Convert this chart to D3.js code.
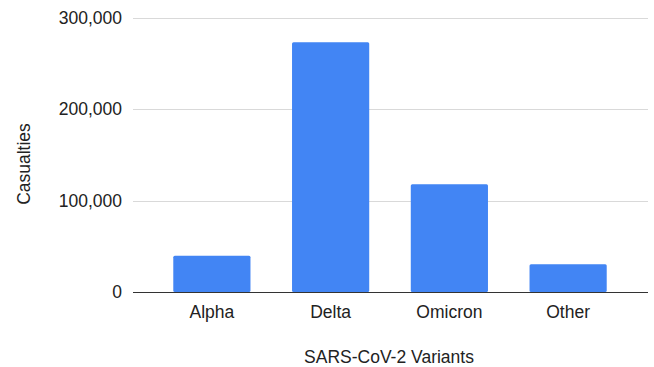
<!DOCTYPE html>
<html>
<head>
<meta charset="utf-8">
<script src="https://cdn.jsdelivr.net/npm/d3@7"></script>
<style>
  html, body { margin: 0; padding: 0; background: #fff; }
  svg { display: block; font-family: Arial, "Liberation Sans", sans-serif; }
</style>
</head>
<body>
<svg id="chart" width="654" height="367"></svg>
<script>
// Casualties by SARS-CoV-2 variant
const categories = ["Alpha", "Delta", "Omicron", "Other"];
const casualties = [39500, 273000, 117800, 30200];
const yTicks = [0, 100000, 200000, 300000];

const svg = d3.select("#chart");

const plot = { left: 133, right: 648, top: 17.5, bottom: 292 };
const fontSize = 17.5;

const x = d3.scaleBand()
  .domain(categories)
  .range([152.5, 627.5])
  .paddingInner(0.35)
  .paddingOuter(0.175);

const y = d3.scaleLinear()
  .domain([0, 300000])
  .range([plot.bottom, plot.top]);

const fmt = d3.format(",");

// horizontal gridlines
svg.append("g")
  .selectAll("line")
  .data(yTicks.filter(d => d !== 0))
  .join("line")
  .attr("x1", plot.left).attr("x2", plot.right)
  .attr("y1", d => Math.round(y(d)) + 0.5).attr("y2", d => Math.round(y(d)) + 0.5)
  .attr("stroke", "#d9d9d9").attr("stroke-width", 1);

// y tick labels
svg.append("g")
  .selectAll("text")
  .data(yTicks)
  .join("text")
  .attr("x", 122)
  .attr("y", d => y(d))
  .attr("dy", "0.35em")
  .attr("text-anchor", "end")
  .attr("font-size", fontSize)
  .attr("fill", "#222")
  .text(d => fmt(d));

// bars
svg.append("g")
  .selectAll("rect")
  .data(categories.map((c, i) => ({ c, v: casualties[i] })))
  .join("rect")
  .attr("x", d => x(d.c))
  .attr("y", d => y(d.v))
  .attr("width", x.bandwidth())
  .attr("height", d => y(0) - y(d.v))
  .attr("rx", 1.5)
  .attr("fill", "#4285f4");

// baseline
svg.append("line")
  .attr("x1", plot.left).attr("x2", plot.right)
  .attr("y1", y(0) + 0.5).attr("y2", y(0) + 0.5)
  .attr("stroke", "#333").attr("stroke-width", 1);

// category labels
svg.append("g")
  .selectAll("text")
  .data(categories)
  .join("text")
  .attr("x", d => x(d) + x.bandwidth() / 2)
  .attr("y", 318)
  .attr("text-anchor", "middle")
  .attr("font-size", fontSize)
  .attr("fill", "#222")
  .text(d => d);

// axis titles
svg.append("text")
  .attr("x", 389)
  .attr("y", 362.5)
  .attr("text-anchor", "middle")
  .attr("font-size", fontSize)
  .attr("fill", "#222")
  .text("SARS-CoV-2 Variants");

svg.append("text")
  .attr("transform", "translate(29.5,164) rotate(-90)")
  .attr("text-anchor", "middle")
  .attr("font-size", fontSize)
  .attr("fill", "#222")
  .text("Casualties");
</script>
</body>
</html>
